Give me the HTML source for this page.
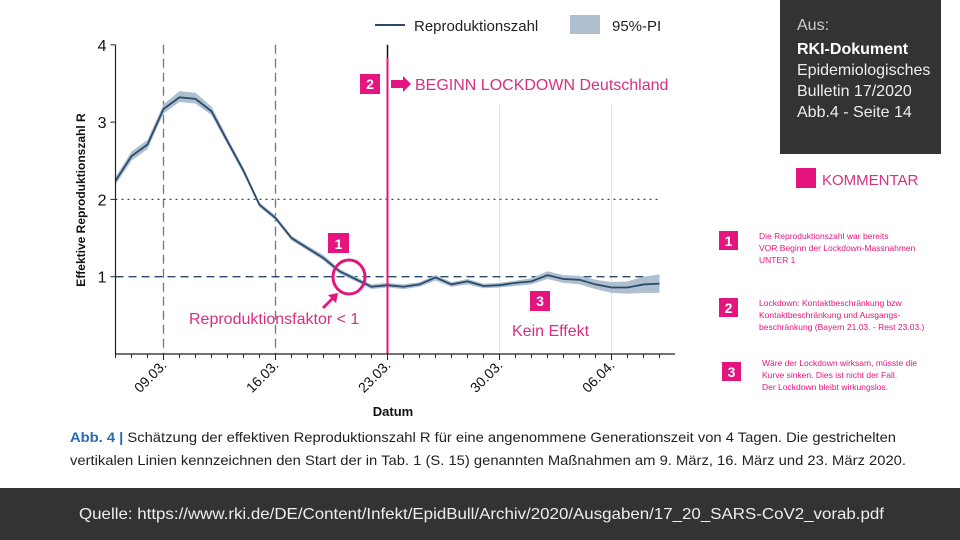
<!DOCTYPE html>
<html><head><meta charset="utf-8"><style>
html,body{margin:0;padding:0;background:#fff;}
svg{display:block;font-family:"Liberation Sans",sans-serif;}
</style></head><body>
<svg id="chart" width="960" height="540" viewBox="0 0 960 540">
<rect x="0" y="0" width="960" height="540" fill="#fff"/>
<g id="grid"></g>
<g id="band"></g>
<g id="line"></g>
<g id="axes"></g>
<!-- legend -->
<g>
  <line x1="375" y1="25" x2="405" y2="25" stroke="#2c4a6b" stroke-width="2"/>
  <text x="414" y="31" font-size="15" fill="#222">Reproduktionszahl</text>
  <rect x="570" y="15" width="30" height="19" fill="#aebfd0"/>
  <text x="612" y="31" font-size="15" fill="#222">95%-PI</text>
</g>
<text transform="translate(85,200) rotate(-90)" text-anchor="middle" font-size="12" font-weight="bold" fill="#111">Effektive Reproduktionszahl R</text>
<text x="393" y="416" text-anchor="middle" font-size="13" font-weight="bold" fill="#111">Datum</text>
<!-- annotations -->
<g fill="#e4157f">
  <rect x="360" y="74" width="20" height="20" fill="#e4157f"/>
  <text x="370" y="89" text-anchor="middle" font-size="14" font-weight="bold" fill="#fff">2</text>
  <path d="M391 80 h12 v-4 l8 8 l-8 8 v-4 h-12z"/>
  <text x="415" y="90" font-size="16" fill="#d6307f">BEGINN LOCKDOWN Deutschland</text>
  <rect x="328" y="233" width="21" height="20"/>
  <text x="338.5" y="249" text-anchor="middle" font-size="14" font-weight="bold" fill="#fff">1</text>
  <ellipse cx="349" cy="277" rx="16" ry="17" fill="none" stroke="#e4157f" stroke-width="3"/>
  <path d="M322 307 l9 -9 l-3 -3 l10 -2 l-2 10 l-3 -3 l-9 9z"/>
  <text x="189" y="324" font-size="16" fill="#d6307f">Reproduktionsfaktor &lt; 1</text>
  <rect x="530" y="291" width="20" height="20"/>
  <text x="540" y="306" text-anchor="middle" font-size="14" font-weight="bold" fill="#fff">3</text>
  <text x="512" y="336" font-size="16" fill="#d6307f">Kein Effekt</text>
</g>
<!-- info box -->
<g>
  <rect x="780" y="0" width="161" height="154" fill="#333"/>
  <text x="797" y="30" font-size="16" fill="#ccc">Aus:</text>
  <text x="797" y="54" font-size="16" font-weight="bold" fill="#fff">RKI-Dokument</text>
  <text x="797" y="75" font-size="16" fill="#eee">Epidemiologisches</text>
  <text x="797" y="96" font-size="16" fill="#eee">Bulletin 17/2020</text>
  <text x="797" y="117" font-size="16" fill="#eee">Abb.4 - Seite 14</text>
</g>
<g>
  <rect x="796" y="168" width="20" height="20" fill="#e4157f"/>
  <text x="822" y="185" font-size="15" fill="#d6307f">KOMMENTAR</text>
</g>
<g font-size="8.5" fill="#e4157f">
  <rect x="719" y="231" width="19" height="19"/>
  <text x="728.5" y="246" text-anchor="middle" font-size="14" font-weight="bold" fill="#fff">1</text>
  <text x="759" y="239">Die Reproduktionszahl war bereits</text>
  <text x="759" y="251">VOR Beginn der Lockdown-Massnahmen</text>
  <text x="759" y="263">UNTER 1</text>
  <rect x="719" y="298" width="19" height="19"/>
  <text x="728.5" y="313" text-anchor="middle" font-size="14" font-weight="bold" fill="#fff">2</text>
  <text x="759" y="306">Lockdown: Kontaktbeschränkung bzw</text>
  <text x="759" y="318">Kontaktbeschränkung und Ausgangs-</text>
  <text x="759" y="330">beschränkung (Bayern 21.03. - Rest 23.03.)</text>
  <rect x="722" y="362" width="19" height="19"/>
  <text x="731.5" y="377" text-anchor="middle" font-size="14" font-weight="bold" fill="#fff">3</text>
  <text x="762" y="366">Wäre der Lockdown wirksam, müsste die</text>
  <text x="762" y="378">Kurve sinken. Dies ist nicht der Fall.</text>
  <text x="762" y="390">Der Lockdown bleibt wirkungslos.</text>
</g>
<g font-size="14" fill="#222">
  <text x="70" y="442" textLength="826" lengthAdjust="spacingAndGlyphs"><tspan fill="#2a6ab0" font-weight="bold">Abb. 4 |</tspan> Schätzung der effektiven Reproduktionszahl R für eine angenommene Generationszeit von 4 Tagen. Die gestrichelten</text>
  <text x="70" y="465" textLength="836" lengthAdjust="spacingAndGlyphs">vertikalen Linien kennzeichnen den Start der in Tab. 1 (S. 15) genannten Maßnahmen am 9. März, 16. März und 23. März 2020.</text>
</g>
<g>
  <rect x="0" y="488" width="960" height="52" fill="#333"/>
  <text x="79" y="519" font-size="16" fill="#eee" textLength="805" lengthAdjust="spacingAndGlyphs">Quelle: https://www.rki.de/DE/Content/Infekt/EpidBull/Archiv/2020/Ausgaben/17_20_SARS-CoV2_vorab.pdf</text>
</g>
</svg>
<script>
// data: days since 06.03.
const rValues = [2.24,2.56,2.71,3.17,3.32,3.30,3.14,2.75,2.37,1.93,1.76,1.50,1.37,1.24,1.07,0.97,0.87,0.89,0.87,0.90,0.99,0.90,0.94,0.88,0.89,0.92,0.94,1.02,0.97,0.96,0.90,0.86,0.86,0.90,0.91];
const rLower = [2.19,2.50,2.65,3.11,3.26,3.24,3.09,2.71,2.33,1.90,1.73,1.47,1.34,1.21,1.04,0.94,0.84,0.86,0.84,0.87,0.95,0.87,0.90,0.85,0.86,0.88,0.90,0.97,0.92,0.90,0.84,0.79,0.78,0.79,0.79];
const rUpper = [2.29,2.62,2.77,3.23,3.40,3.38,3.20,2.80,2.41,1.96,1.79,1.53,1.40,1.28,1.10,1.00,0.90,0.92,0.90,0.93,1.02,0.93,0.97,0.91,0.92,0.95,0.98,1.07,1.02,1.01,0.96,0.93,0.94,1.00,1.03];
const tickDays = [3,10,17,24,31];
const tickLabels = ["09.03.","16.03.","23.03.","30.03.","06.04."];
const yTicks = [1,2,3,4];

const NS="http://www.w3.org/2000/svg";
const X0=115.5, DX=16.0, Y0=354, DY=77.3;
const xs=d=>X0+d*DX, ys=v=>Y0-v*DY;
function mk(tag,attrs,parent){const e=document.createElementNS(NS,tag);for(const k in attrs)e.setAttribute(k,attrs[k]);parent.appendChild(e);return e;}
const grid=document.getElementById('grid'),band=document.getElementById('band'),line=document.getElementById('line'),axes=document.getElementById('axes');

// gridlines
[4,5].forEach(i=>{const g=mk('line',{x1:xs(tickDays[i-1]),x2:xs(tickDays[i-1]),y1:105,y2:Y0,stroke:'#e2e2e2','stroke-width':1},grid);

});
[0,1].forEach(i=>{const g=mk('line',{x1:xs(tickDays[i]),x2:xs(tickDays[i]),y1:ys(4),y2:Y0,stroke:'#777','stroke-width':1.3,'stroke-dasharray':'9,5'},grid);

});
const h2=mk('line',{x1:X0,x2:660,y1:ys(2),y2:ys(2),stroke:'#2c4a6b','stroke-width':1.3,'stroke-dasharray':'2,4'},grid);


const h1=mk('line',{x1:X0,x2:660,y1:ys(1),y2:ys(1),stroke:'#2c4a6b','stroke-width':1.4,'stroke-dasharray':'8,5'},grid);



// band
let p='';rUpper.forEach((v,i)=>p+=(i?'L':'M')+xs(i)+' '+ys(v));
for(let i=rLower.length-1;i>=0;i--)p+='L'+xs(i)+' '+ys(rLower[i]);
const bp=mk('path',{d:p+'Z',fill:'#aebfd0'},band);


let lp='';rValues.forEach((v,i)=>lp+=(i?'L':'M')+xs(i)+' '+ys(v));
const lpath=mk('path',{d:lp,fill:'none',stroke:'#2c4a6b','stroke-width':1.8},line);



// lockdown line
const bl=mk('line',{x1:xs(17),x2:xs(17),y1:ys(4),y2:58,stroke:'#111','stroke-width':1.5},axes);


const pl=mk('line',{x1:xs(17),x2:xs(17),y1:58,y2:Y0,stroke:'#e4157f','stroke-width':2},axes);



// axes
mk('line',{x1:X0,x2:X0,y1:ys(4),y2:Y0,stroke:'#222','stroke-width':1.2},axes);
mk('line',{x1:X0,x2:675,y1:Y0,y2:Y0,stroke:'#222','stroke-width':1.2},axes);
yTicks.forEach(v=>{mk('line',{x1:X0-5,x2:X0,y1:ys(v),y2:ys(v),stroke:'#222'},axes);
const t=mk('text',{x:X0-9,y:ys(v)+6,'text-anchor':'end','font-size':16,fill:'#111'},axes);t.textContent=v;

});
for(let d=0;d<=34;d++)mk('line',{x1:xs(d),x2:xs(d),y1:Y0,y2:Y0+(tickDays.includes(d)?6:4),stroke:'#222'},axes);
tickDays.forEach((d,i)=>{const t=mk('text',{transform:`translate(${xs(d)+4},${Y0+12}) rotate(-45)`,'text-anchor':'end','font-size':14,fill:'#111'},axes);t.textContent=tickLabels[i];

});
</script>
</body></html>
